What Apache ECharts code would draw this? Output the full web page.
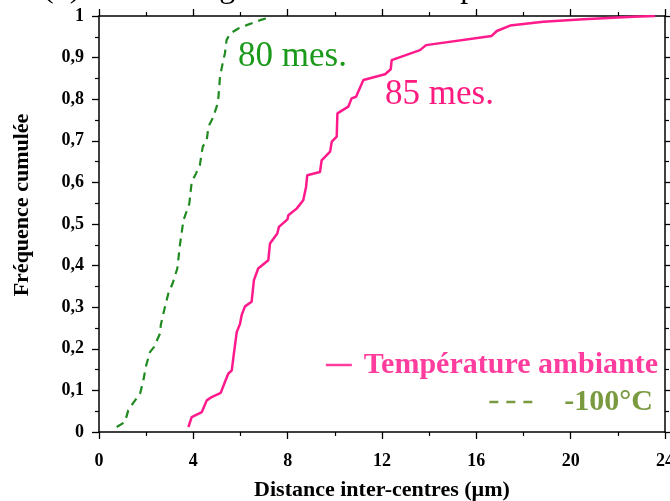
<!DOCTYPE html>
<html>
<head>
<meta charset="utf-8">
<script src="https://cdn.jsdelivr.net/npm/echarts@6/dist/echarts.min.js"></script>
<style>
html,body{margin:0;padding:0;background:#fff;}
#chart{width:670px;height:501px;}
</style>
</head>
<body>
<div id="chart"></div>
<script>
// Température ambiante (85 mesures): distance (µm), fréquence cumulée
const ambX = [3.79,3.93,4.36,4.57,4.78,5.16,5.34,5.48,5.63,5.70,5.84,5.98,6.05,6.19,6.47,6.57,6.75,7.18,7.25,7.56,7.63,7.99,8.03,8.38,8.66,8.78,8.83,9.37,9.44,9.80,9.87,10.08,10.11,10.57,10.71,10.90,11.21,12.13,12.37,12.41,13.61,13.87,16.65,16.87,17.43,18.84,20.54,22.66,23.58];
const ambY = [0.012,0.036,0.048,0.076,0.084,0.094,0.12,0.14,0.148,0.18,0.24,0.26,0.281,0.302,0.313,0.365,0.393,0.413,0.453,0.477,0.493,0.511,0.521,0.537,0.557,0.589,0.617,0.625,0.653,0.674,0.698,0.71,0.766,0.782,0.802,0.806,0.846,0.86,0.872,0.894,0.918,0.930,0.952,0.964,0.977,0.986,0.992,0.998,1.0];
// -100°C (80 mesures)
const coldX = [0.75,1.10,1.24,1.43,1.74,1.88,2.00,2.16,2.33,2.59,2.62,2.73,2.94,3.12,3.32,3.36,3.43,3.58,3.83,3.86,3.93,4.11,4.28,4.33,4.40,4.57,4.64,4.82,4.99,5.06,5.13,5.27,5.34,5.41,5.56,5.91,6.26,6.83,7.25];
const coldY = [0.012,0.024,0.052,0.068,0.092,0.124,0.16,0.192,0.204,0.237,0.257,0.285,0.333,0.357,0.393,0.413,0.449,0.509,0.549,0.565,0.601,0.621,0.642,0.662,0.686,0.702,0.734,0.754,0.782,0.802,0.854,0.894,0.910,0.942,0.958,0.970,0.978,0.990,0.997];

const seriesNames = ['Température ambiante', '-100°C'];
const countLabels = ['85 mes.', '80 mes.'];
const xTickLabels = ['0','4','8','12','16','20','24'];
const yTickLabels = ['0','0,1','0,2','0,3','0,4','0,5','0,6','0,7','0,8','0,9','1'];
const xAxisName = 'Distance inter-centres (µm)';
const yAxisName = 'Fréquence cumulée';
const titleText = '(b) Taille des grains selon la température';

const FONT = '"Liberation Serif", "Times New Roman", serif';
const PINK = '#ff1a8c';
const GREEN = '#1f8a1f';

const zip = (xs, ys) => xs.map((x, i) => [x, ys[i]]);

const axisCommon = {
  axisLine: {show: true, onZero: false, lineStyle: {color: '#000', width: 1.5}},
  axisTick: {show: true, inside: false, length: 7, lineStyle: {color: '#000', width: 1.3}},
  minorTick: {show: true, splitNumber: 2, length: 4, lineStyle: {color: '#000', width: 1.2}},
  splitLine: {show: false},
  minorSplitLine: {show: false}
};
const tickFont = {fontFamily: FONT, fontWeight: 'bold', fontSize: 18, color: '#000'};

const chart = echarts.init(document.getElementById('chart'));
chart.setOption({
  animation: false,
  backgroundColor: '#fff',
  grid: {left: 99, right: 5, top: 16, bottom: 69, containLabel: false, outerBoundsMode: 'none'},
  xAxis: [
    Object.assign({type: 'value', min: 0, max: 24, interval: 4, position: 'bottom',
      axisLabel: Object.assign({margin: 20, formatter: v => xTickLabels[Math.round(v / 4)]}, tickFont),
      name: xAxisName, nameLocation: 'middle', nameGap: 47,
      nameTextStyle: {fontFamily: FONT, fontWeight: 'bold', fontSize: 22, color: '#000'}
    }, axisCommon),
    Object.assign({type: 'value', min: 0, max: 24, interval: 4, position: 'top',
      axisLabel: {show: false}}, axisCommon)
  ],
  yAxis: [
    Object.assign({type: 'value', min: 0, max: 1, interval: 0.1, position: 'left',
      axisLabel: Object.assign({margin: 15, formatter: v => yTickLabels[Math.round(v * 10)]}, tickFont)
    }, axisCommon),
    Object.assign({type: 'value', min: 0, max: 1, interval: 0.1, position: 'right',
      axisLabel: {show: false}}, axisCommon)
  ],
  legend: [
    {
      data: [{name: seriesNames[0], textStyle: {color: '#ff3d9e'}}],
      right: 12, top: 350, padding: 0,
      itemWidth: 26, itemHeight: 14,
      itemStyle: {opacity: 0},
      lineStyle: {width: 2.5, color: '#ff3d9e'},
      textStyle: {fontFamily: FONT, fontWeight: 'bold', fontSize: 30, padding: [0, 0, 0, 7]}
    },
    {
      data: [{name: seriesNames[1], textStyle: {color: '#7a9a40'}}],
      right: 17, top: 387, padding: 0,
      itemWidth: 43, itemHeight: 14,
      itemStyle: {opacity: 0},
      lineStyle: {width: 2.5, color: '#7a9a40', type: [9, 8]},
      textStyle: {fontFamily: FONT, fontWeight: 'bold', fontSize: 30, padding: [0, 0, 0, 27]}
    }
  ],
  graphic: [
    {type: 'text', left: 43, top: -27, silent: true,
      style: {text: titleText, font: '32px ' + FONT, fill: '#000'}},
    {type: 'text', x: 22, y: 205, rotation: Math.PI / 2, silent: true,
      style: {text: yAxisName, font: 'bold 22px ' + FONT, fill: '#000', align: 'center', verticalAlign: 'middle'}},
    {type: 'text', x: 238, y: 57, silent: true,
      style: {text: countLabels[1], font: '35px ' + FONT, fill: '#1a991a', align: 'left', verticalAlign: 'middle'}},
    {type: 'text', x: 385, y: 95, silent: true,
      style: {text: countLabels[0], font: '35px ' + FONT, fill: '#ff1a80', align: 'left', verticalAlign: 'middle'}}
  ],
  series: [
    {name: seriesNames[0], type: 'line', xAxisIndex: 0, yAxisIndex: 0,
      data: zip(ambX, ambY), showSymbol: false, symbol: 'none',
      lineStyle: {color: PINK, width: 2.5}, itemStyle: {color: PINK}},
    {name: seriesNames[1], type: 'line', xAxisIndex: 0, yAxisIndex: 0,
      data: zip(coldX, coldY), showSymbol: false, symbol: 'none',
      lineStyle: {color: GREEN, width: 2.2, type: [8, 6]}, itemStyle: {color: GREEN}}
  ]
});
</script>
</body>
</html>
